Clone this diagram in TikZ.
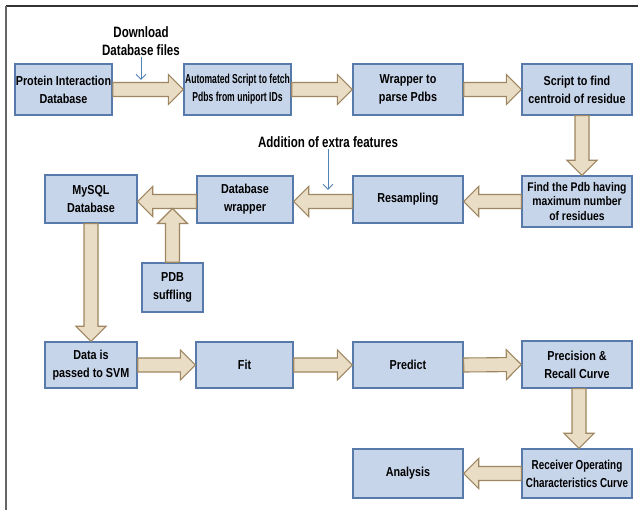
\documentclass[tikz,border=0pt]{standalone}
\usepackage{fontspec}
\setmainfont{Liberation Sans}[FakeStretch=0.83]
\newfontfamily\narrowa{Liberation Sans}[FakeStretch=0.66]
\newfontfamily\narrowb{Liberation Sans}[FakeStretch=0.76]
\newfontfamily\notefont{Liberation Sans}[FakeStretch=0.77]
\usetikzlibrary{calc,arrows.meta}
\definecolor{boxfill}{RGB}{199,213,234}
\definecolor{boxline}{RGB}{88,122,170}
\definecolor{arrfill}{RGB}{234,221,198}
\definecolor{arrline}{RGB}{158,134,96}
\definecolor{noteblue}{RGB}{80,130,180}
\def\arrsw{7pt}
\def\arrhw{15pt}
\def\arrhl{15pt}
\newcommand\barrow[2]{%
  \path (#1) coordinate (bs) (#2) coordinate (be);
  \path ($(be)!\arrhl!(bs)$) coordinate (bb);
  \draw[blockarrow] ($(bs)!\arrsw!90:(be)$) -- ($(bb)!\arrsw!90:(be)$)
    -- ($(bb)!\arrhw!90:(be)$) -- (be) -- ($(bb)!\arrhw!-90:(be)$)
    -- ($(bb)!\arrsw!-90:(be)$) -- ($(bs)!\arrsw!-90:(be)$) -- cycle;}
\tikzset{
  box/.style={draw=boxline, line width=1.4pt, fill=boxfill, inner sep=1pt,
    align=center, font=\bfseries\fontsize{13}{18}\selectfont},
  blockarrow/.style={draw=arrline, fill=arrfill, line width=1.1pt, line join=miter},
  note/.style={align=center, inner sep=1pt, font=\notefont\bfseries\fontsize{15}{18}\selectfont},
  notearrow/.style={draw=noteblue, line width=1pt, -{Straight Barb[length=5pt,width=10pt]}}
}
\begin{document}
\begin{tikzpicture}[x=1pt,y=-1pt]
\useasboundingbox (0,0) rectangle (638,510);
\fill[white] (0,0) rectangle (638,510);
\draw[line width=1.7pt, color=black!80] (6,6) -- (638,6);
\draw[line width=1.7pt, color=black!60] (6,6) -- (6,510);

% boxes
\node[box, minimum width=97, minimum height=51] (prot) at (63.5,89.5) {Protein Interaction\\Database};
\node[box, minimum width=107, minimum height=51] (auto) at (237.5,89.5) {\narrowa Automated Script to fetch\\\narrowa Pdbs from uniport IDs};
\node[box, minimum width=110, minimum height=51] (wrap) at (408,89.5) {Wrapper to\\parse Pdbs};
\node[box, minimum width=110, minimum height=51] (cent) at (577,89.5) {Script to find\\centroid of residue};

\node[box, minimum width=92, minimum height=48] (mysql) at (91,199) {MySQL\\Database};
\node[box, minimum width=96, minimum height=47] (dbw) at (245,199.5) {Database\\wrapper};
\node[box, minimum width=110, minimum height=47] (resam) at (408,199.5) {Resampling};
\node[box, minimum width=110, minimum height=51, font=\bfseries\fontsize{12.5}{14.5}\selectfont] (find) at (577,201.5) {Find the Pdb having\\maximum number\\of residues};
\node[box, minimum width=61, minimum height=49] (pdb) at (172.5,287.5) {PDB\\suffling};

\node[box, minimum width=92, minimum height=46] (data) at (91,365) {Data is\\passed to SVM};
\node[box, minimum width=97, minimum height=46] (fit) at (244.5,365) {Fit};
\node[box, minimum width=110, minimum height=46] (pred) at (408,365) {Predict};
\node[box, minimum width=110, minimum height=47] (prec) at (577,364.5) {Precision \&\\Recall Curve};

\node[box, minimum width=110, minimum height=49] (anal) at (408,473.5) {Analysis};
\node[box, minimum width=110, minimum height=49] (roc) at (577,473.5) {\narrowb Receiver Operating\\\narrowb Characteristics Curve};

% block arrows
\barrow{prot.east}{auto.west}
\barrow{auto.east}{wrap.west}
\barrow{wrap.east}{cent.west}
\barrow{$(cent.south)+(5,0)$}{$(find.north)+(5,0)$}
\barrow{find.west}{find.west -| resam.east}
\barrow{resam.west |- find.west}{find.west -| dbw.east}
\barrow{dbw.west |- find.west}{find.west -| mysql.east}
\coordinate (merge) at ($(dbw.west |- find.west)+(0,-\arrsw)$);
\barrow{pdb.north}{pdb.north |- merge}
\barrow{mysql.south}{data.north}
\barrow{data.east}{fit.west}
\barrow{fit.east}{pred.west}
\barrow{pred.east}{prec.west}
\barrow{$(prec.south)+(2,0)$}{$(roc.north)+(2,0)$}
\barrow{roc.west}{anal.east}

% notes
\node[note] (dl) at (141,41) {Download\\Database files};
\coordinate (dlt) at (141,80);
\draw[notearrow] (dl.south) -- (dlt);
\node[note] (add) at (328,142) {Addition of extra features};
\coordinate (addt) at (328,190);
\draw[notearrow] (add.south) -- (addt);
\end{tikzpicture}
\end{document}
